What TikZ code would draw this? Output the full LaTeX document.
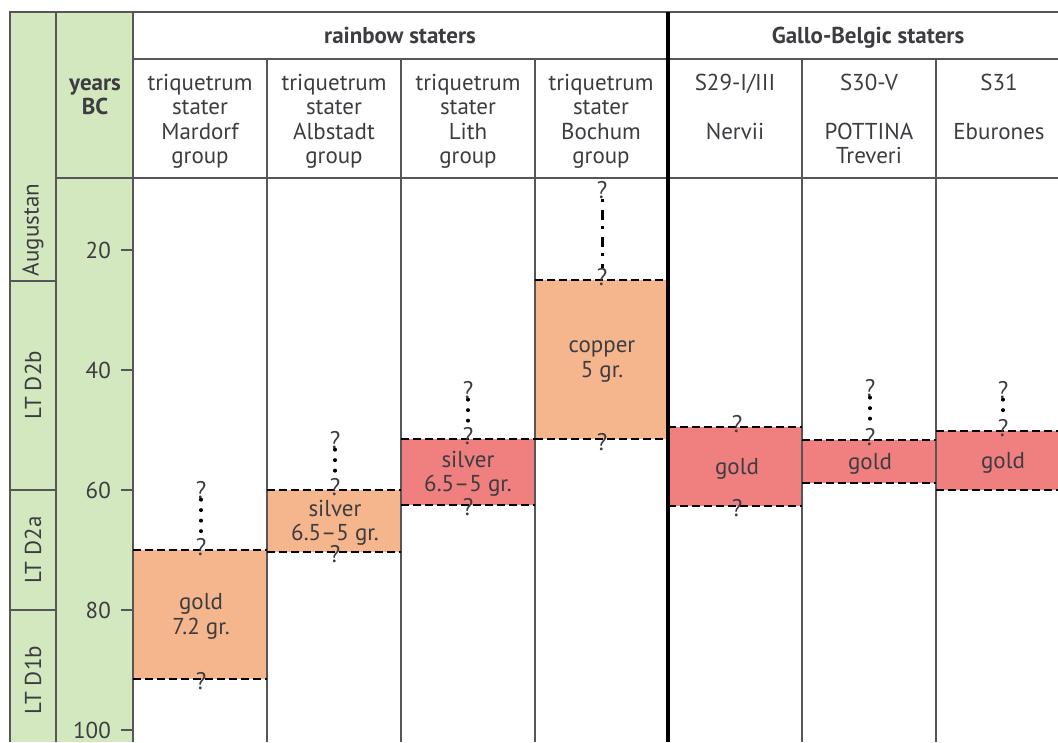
\documentclass[tikz,border=0pt]{standalone}
\usepackage{fontspec}
\setmainfont{PT Sans}
\usetikzlibrary{calc}
\definecolor{sage}{RGB}{211,232,191}
\definecolor{peach}{RGB}{246,182,141}
\definecolor{coral}{RGB}{240,127,127}
\definecolor{ink}{RGB}{60,60,65}
\definecolor{rule}{RGB}{85,85,90}
\newcommand{\slashmark}{/}

\begin{document}
\begin{tikzpicture}[x=1pt,y=-1pt,font=\fontsize{23}{24.5}\selectfont,text=ink,
    gridline/.style={rule,line width=1.6pt},
    bound/.style={line width=2pt,dash pattern=on 8pt off 4pt},
    qdots/.style={line width=3.4pt,line cap=round,dash pattern=on 0.5pt off 10pt},
    qdashes/.style={line width=3pt,dash pattern=on 3pt off 8pt on 10pt off 6pt},
    qm/.style={inner sep=0.5pt,font=\fontsize{24}{24.5}\selectfont}]
  \useasboundingbox (0,0) rectangle (1058,742);
  \fill[sage] (10,12) rectangle (133,742);
  \foreach \xa/\xb/\ya/\yb/\c in {133/267/550/679/peach, 267/401/490/552/peach,
      401/535/439/505/coral, 535/668/280/439/peach, 668/802/427/506/coral,
      802/936/440/483/coral, 936/1058/431/490/coral}
    \fill[\c] (\xa,\ya) rectangle (\xb,\yb);

  \draw[gridline] (10,742) |- (1058,12);
  \draw[gridline] (133,59) -- (1058,59);
  \draw[gridline] (56,178) -- (1058,178);
  \draw[gridline] (56,12) -- (56,742);
  \draw[gridline] (133,12) -- (133,742);
  \foreach \x in {267,401,535,802,936} \draw[gridline] (\x,59) -- (\x,742);
  \foreach \y in {281,490,610} \draw[gridline] (10,\y) -- (56,\y);
  \draw[black,line width=3.5pt] (668,12) -- (668,742);

  \node[font=\fontsize{23}{24.5}\selectfont\bfseries,anchor=base] (rb) at (400,43) {rainbow staters};
  \node[font=\fontsize{23}{24.5}\selectfont\bfseries,anchor=base] (gb) at (868,43) {Gallo-Belgic staters};
  \node[font=\fontsize{23}{24.5}\selectfont\bfseries,align=center,anchor=north,inner sep=0pt] (yrs) at (95,73) {\strut years\\BC};
  \foreach \x/\t [count=\i] in {200/triquetrum\\stater\\Mardorf\\group,
      334/triquetrum\\stater\\Albstadt\\group, 468/triquetrum\\stater\\Lith\\group,
      601/triquetrum\\stater\\Bochum\\group, 735/S29-I\slashmark III\\[24.5pt]Nervii,
      869/S30-V\\[24.5pt]POTTINA\\Treveri, 999/S31\\[24.5pt]Eburones}
    \node[align=center,anchor=north,inner sep=0pt] (h\i) at (\x,73) {\strut\t};

  \foreach \t/\y [count=\i] in {Augustan/230, LT D2b/385, LT D2a/550, LT D1b/680}
    \node[rotate=90] (p\i) at (33,\y) {\t};
  \foreach \v in {20,40,60,80,100}
  {
    \pgfmathsetmacro{\y}{130+6*\v}
    \draw[rule,line width=1.2pt] (121,\y) -- (133,\y);
    \node[anchor=east,inner sep=0pt] (v\v) at (111,\y) {\v};
  }

  \foreach \xa/\xb/\ya/\yb/\x/\t [count=\i] in {133/267/550/679/201/gold\\7.2 gr.,
      267/401/490/552/335/silver\\6.5–5 gr., 401/535/439/505/468/silver\\6.5–5 gr.,
      535/668/280/439/602/copper\\5 gr., 668/802/427/506/737/gold,
      802/936/440/483/870/gold, 936/1058/431/490/1003/gold}
  {
    \draw[bound] (\xa,\ya) -- (\xb,\ya);
    \draw[bound] (\xa,\yb) -- (\xb,\yb);
    \node[align=center] (b\i) at (\x,{(\ya+\yb)/2+2}) {\t};
    \node[qm] (t\i) at (\x,{\ya-3}) {?};
  }
  \foreach \x/\y [count=\i] in {201/681, 335/554, 468/507, 602/442, 737/508}
    \node[qm] (d\i) at (\x,\y) {?};
  \foreach \i/\x/\y/\s in {1/201/490/qdots, 2/335/440/qdots, 3/468/390/qdots,
      4/602/190/qdashes, 6/870/388/qdots, 7/1003/390/qdots}
  {
    \node[qm] (u\i) at (\x,\y) {?};
    \draw[\s] (u\i) -- (t\i);
  }
\end{tikzpicture}
\end{document}
